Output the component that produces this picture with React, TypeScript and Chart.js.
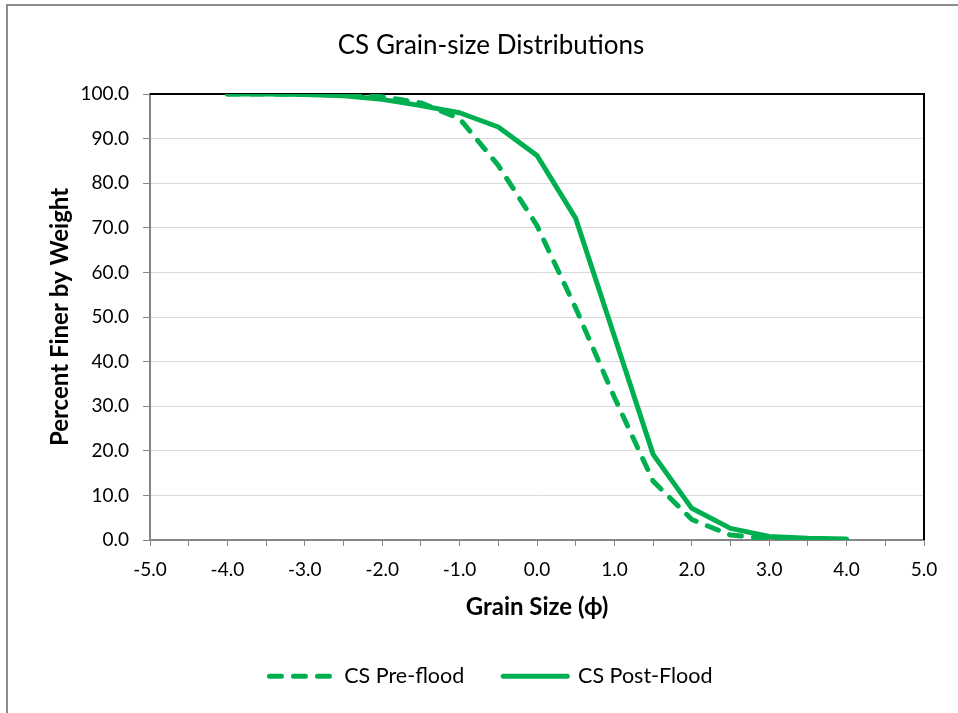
import React, { useEffect, useRef } from 'react';
import { Chart, registerables } from 'chart.js';

Chart.register(...registerables);

const chartTitle = 'CS Grain-size Distributions';
const xAxisTitle = 'Grain Size (\u03D5)';
const yAxisTitle = 'Percent Finer by Weight';
const seriesNames = ['CS Pre-flood', 'CS Post-Flood'];

const grainSize = [-4.0, -3.5, -3.0, -2.5, -2.0, -1.5, -1.0, -0.5, 0.0, 0.5, 1.0, 1.5, 2.0, 2.5, 3.0, 3.5, 4.0];
const preFlood = [100.0, 100.0, 99.9, 99.8, 99.4, 98.0, 94.5, 84.0, 70.5, 52.0, 32.0, 13.2, 4.6, 1.1, 0.3, 0.1, 0.0];
const postFlood = [100.0, 100.0, 99.9, 99.6, 98.8, 97.4, 95.8, 92.6, 86.2, 72.1, 45.7, 19.2, 7.1, 2.6, 0.8, 0.4, 0.2];

const xMin = -5;
const xMax = 5;
const xStep = 0.5;
const yMin = 0;
const yMax = 100;
const yStep = 10;

const GREEN = '#00B050';
const FONT = 'Lato, "Liberation Sans", sans-serif';

const plotFrame = {
  id: 'plotFrame',
  beforeDatasetsDraw(chart: any) {
    const { ctx, chartArea } = chart;
    ctx.save();
    ctx.strokeStyle = '#000000';
    ctx.lineWidth = 2;
    ctx.beginPath();
    ctx.moveTo(chartArea.left, chartArea.top);
    ctx.lineTo(chartArea.right, chartArea.top);
    ctx.lineTo(chartArea.right, chartArea.bottom);
    ctx.stroke();
    ctx.restore();
  },
};

export default function App() {
  const canvasRef = useRef<HTMLCanvasElement | null>(null);

  useEffect(() => {
    if (!canvasRef.current) return;
    const toPoints = (ys: number[]) => grainSize.map((x, i) => ({ x, y: ys[i] }));
    const chart = new Chart(canvasRef.current, {
      type: 'line',
      data: {
        datasets: [
          {
            label: seriesNames[0],
            data: toPoints(preFlood),
            borderColor: GREEN,
            backgroundColor: GREEN,
            borderWidth: 5,
            borderDash: [12, 12],
            borderCapStyle: 'round',
            borderJoinStyle: 'round',
            pointRadius: 0,
            tension: 0,
            fill: false,
          },
          {
            label: seriesNames[1],
            data: toPoints(postFlood),
            borderColor: GREEN,
            backgroundColor: GREEN,
            borderWidth: 5,
            borderCapStyle: 'round',
            borderJoinStyle: 'round',
            pointRadius: 0,
            tension: 0,
            fill: false,
          },
        ],
      },
      options: {
        animation: false,
        responsive: false,
        devicePixelRatio: 1,
        layout: { padding: { top: 0, left: 58, right: 34, bottom: 16 } },
        plugins: {
          title: {
            display: true,
            text: chartTitle,
            color: '#000',
            font: { family: FONT, size: 26, weight: 'normal' },
            padding: { top: 30, bottom: 32.8 },
          },
          legend: {
            display: true,
            position: 'bottom',
            labels: {
              usePointStyle: true,
              pointStyle: 'line',
              pointStyleWidth: 64,
              padding: 39,
              color: '#000',
              font: { family: FONT, size: 21.5 },
              generateLabels: (c: any) => {
                const items = (Chart.defaults.plugins.legend.labels as any).generateLabels(c);
                items.forEach((it: any) => {
                  const ds: any = c.data.datasets[it.datasetIndex];
                  it.lineDash = ds.borderDash || [];
                  it.lineCap = 'round';
                  it.lineWidth = 5;
                  it.strokeStyle = GREEN;
                  it.fillStyle = GREEN;
                  it.pointStyle = 'line';
                });
                return items;
              },
            },
          },
          tooltip: { enabled: false },
        },
        scales: {
          x: {
            type: 'linear',
            position: 'bottom',
            min: xMin,
            max: xMax,
            afterFit: (s: any) => { s.height = 86.5; },
            ticks: {
              stepSize: xStep,
              autoSkip: false,
              maxRotation: 0,
              color: '#000',
              padding: 12,
              font: { family: FONT, size: 19 },
              callback: (v: any) => {
                const n = Number(v);
                return Math.abs(n - Math.round(n)) < 1e-9 ? (Math.round(n) === 0 ? 0 : n).toFixed(1) : '';
              },
            },
            grid: {
              drawOnChartArea: false,
              drawTicks: true,
              tickLength: 6,
              tickColor: '#868686',
              tickWidth: 1,
            },
            border: { color: '#868686', width: 2 },
            title: {
              display: true,
              text: xAxisTitle,
              color: '#000',
              font: { family: FONT, size: 24, weight: 'bold' },
              padding: { top: 0, bottom: 5.1 },
            },
          },
          y: {
            type: 'linear',
            min: yMin,
            max: yMax,
            afterFit: (s: any) => { s.width = 92; },
            ticks: {
              stepSize: yStep,
              color: '#000',
              padding: 14,
              font: { family: FONT, size: 19 },
              callback: (v: any) => Number(v).toFixed(1),
            },
            grid: {
              color: '#D9D9D9',
              lineWidth: 1,
              drawTicks: true,
              tickLength: 7,
              tickColor: '#868686',
              tickWidth: 1,
            },
            border: { color: '#868686', width: 2 },
            title: {
              display: true,
              text: yAxisTitle,
              color: '#000',
              font: { family: FONT, size: 24, weight: 'bold' },
              padding: { top: -12.4, bottom: 0 },
            },
          },
        },
      } as any,
      plugins: [plotFrame],
    });
    return () => chart.destroy();
  }, []);

  return (
    <div style={{ position: 'absolute', left: 0, top: 0, width: 958, height: 713, background: '#fff' }}>
      <canvas ref={canvasRef} width={958} height={713} style={{ position: 'absolute', left: 0, top: 0, display: 'block' }} />
      <div
        style={{
          position: 'absolute',
          left: 6,
          top: 4,
          width: 952,
          height: 709,
          borderTop: '2px solid #8C8C8C',
          borderLeft: '2px solid #8C8C8C',
          boxSizing: 'border-box',
          pointerEvents: 'none',
        }}
      />
    </div>
  );
}
